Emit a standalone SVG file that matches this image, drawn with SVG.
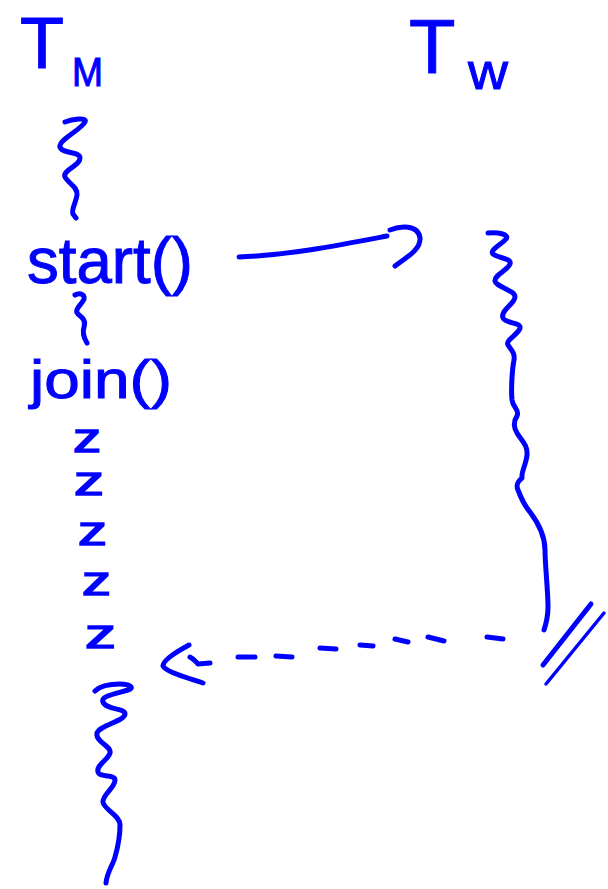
<svg xmlns="http://www.w3.org/2000/svg" width="608" height="889" viewBox="0 0 608 889">
<style>
.ink{fill:none;stroke:#0000ff;stroke-width:5;stroke-linecap:round;stroke-linejoin:round}
.thin{stroke-width:3.5}
.lbl{font-family:"Liberation Sans",Arial,sans-serif;fill:#0000ff;stroke:#0000ff;stroke-width:1}
.z{font-size:40px;stroke-width:1.5}
</style>
<rect width="608" height="889" fill="#ffffff"/>
<g id="thread-main">
  <text class="lbl" x="20" y="68" font-size="72" stroke-width="0">T</text>
  <text class="lbl" x="72" y="86" font-size="40" textLength="31" lengthAdjust="spacingAndGlyphs">M</text>
  <path class="ink" d="M65,122 C72,119 88,117 85,122 C81,130 58,140 60,147 C62,154 80,151 80,158 C80,166 62,170 65,177 C68,183 78,187 77,195 C76,203 71,209 73,214 L76,218"/>
  <text class="lbl" x="27" y="283" font-size="64" textLength="166" lengthAdjust="spacingAndGlyphs">start()</text>
  <path class="ink" d="M75,295 C80,292 87,295 83,301 C80,306 74,310 78,314 C83,318 86,321 84,327 C82,333 84,338 87,343"/>
  <text class="lbl" x="30" y="398" font-size="54" textLength="142" lengthAdjust="spacingAndGlyphs">join()</text>
  <text class="lbl z" x="73" y="452" textLength="28" lengthAdjust="spacingAndGlyphs">z</text>
  <text class="lbl z" x="74" y="495" textLength="30" lengthAdjust="spacingAndGlyphs">z</text>
  <text class="lbl z" x="78" y="545" textLength="29" lengthAdjust="spacingAndGlyphs">z</text>
  <text class="lbl z" x="82" y="595" textLength="29" lengthAdjust="spacingAndGlyphs">z</text>
  <text class="lbl z" x="85" y="648" textLength="31" lengthAdjust="spacingAndGlyphs">z</text>
  <path class="ink" d="M95,691 C100,686 110,684 120,684 C130,684 135,688 128,690 C118,693 100,696 103,702 C106,710 125,708 125,714 C125,721 100,725 97,733 C95,742 112,746 110,753 C108,760 96,765 98,772 C100,778 115,774 115,780 C115,788 102,795 103,802 C104,810 120,815 120,825 C120,840 117,850 115,857 C113,865 107,872 106,883"/>
</g>
<g id="thread-worker">
  <text class="lbl" x="409" y="73" font-size="76" stroke-width="0">T</text>
  <text class="lbl" x="468" y="89" font-size="52" textLength="40" lengthAdjust="spacingAndGlyphs">w</text>
  <path class="ink" d="M488,233 C497,232 510,234 506,239 C502,244 489,250 493,254 C497,258 512,258 510,264 C508,270 494,275 495,281 C496,287 515,290 515,297 C515,304 500,310 503,318 C506,324 521,322 520,328 C519,334 505,340 508,345 C511,350 515,352 514,360 C512,370 511,390 512,400 C513,408 520,410 517,416 C513,422 514,428 517,433 C521,440 528,445 527,455 C526,465 521,472 522,478 C520,480 515,483 518,490 C521,498 524,505 530,512 C536,520 545,535 545,550 C545,565 548,590 548,607 C548,618 546,624 544,630"/>
  <path class="ink" d="M543,665 L591,604"/>
  <path class="ink thin" d="M546,684 L604,613"/>
</g>
<g id="connectors">
  <path class="ink" d="M239,257 C290,255 340,245 387,236"/>
  <path class="ink" d="M390,230 C400,226 418,224 420,238 C421,250 405,258 395,266"/>
  <g class="ink">
    <path d="M487,637 L503,639"/>
    <path d="M428,637 L444,641"/>
    <path d="M395,639 L408,642"/>
    <path d="M360,645 L373,646"/>
    <path d="M320,648 L336,649"/>
    <path d="M276,656 L292,657"/>
    <path d="M238,657 L255,657"/>
    <path d="M190,657 C194,659 196,662 198,664 L210,663"/>
    <path d="M189,645 C176,652 163,660 163,666 C166,672 185,677 203,683"/>
  </g>
</g>
</svg>
